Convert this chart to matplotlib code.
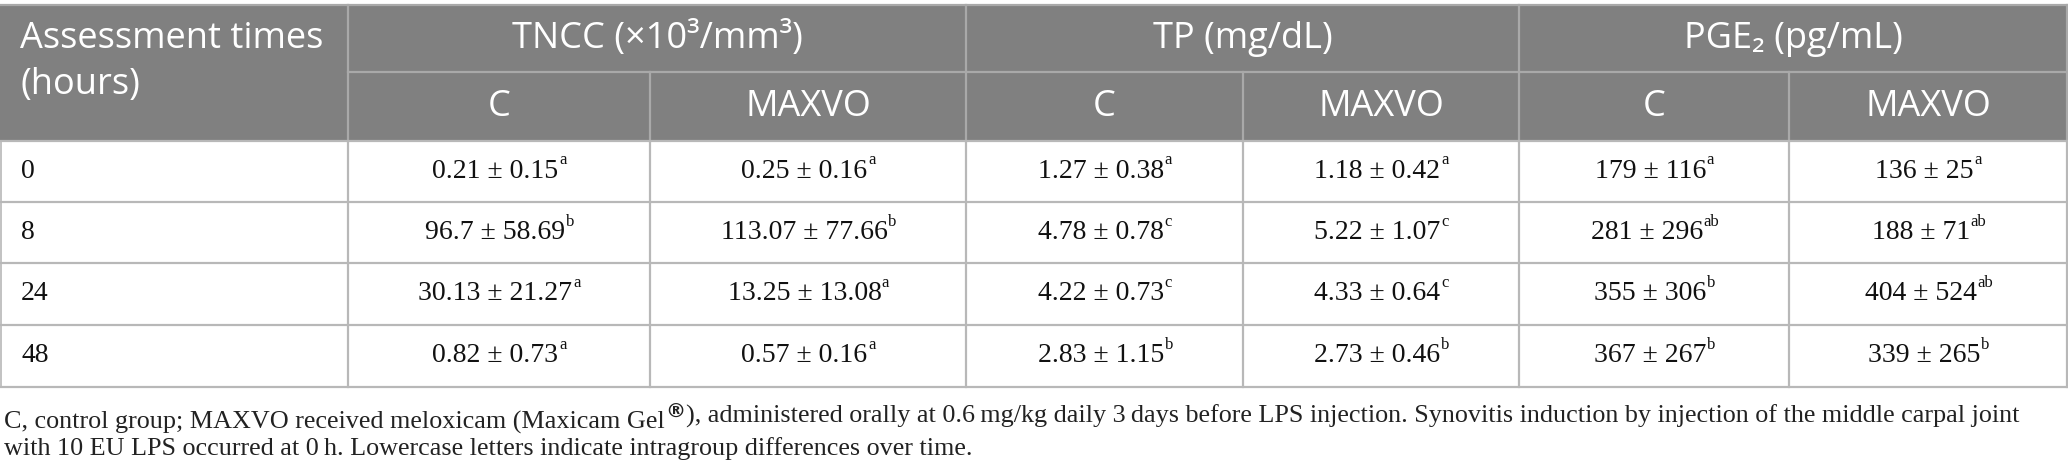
import matplotlib
matplotlib.use("Agg")
import matplotlib.pyplot as plt

# ---------------- data ----------------
times = ["0", "8", "24", "48"]
tncc_c = ["0.21 ± 0.15", "96.7 ± 58.69", "30.13 ± 21.27", "0.82 ± 0.73"]
tncc_c_sup = ["a", "b", "a", "a"]
tncc_m = ["0.25 ± 0.16", "113.07 ± 77.66", "13.25 ± 13.08", "0.57 ± 0.16"]
tncc_m_sup = ["a", "b", "a", "a"]
tp_c = ["1.27 ± 0.38", "4.78 ± 0.78", "4.22 ± 0.73", "2.83 ± 1.15"]
tp_c_sup = ["a", "c", "c", "b"]
tp_m = ["1.18 ± 0.42", "5.22 ± 1.07", "4.33 ± 0.64", "2.73 ± 0.46"]
tp_m_sup = ["a", "c", "c", "b"]
pge_c = ["179 ± 116", "281 ± 296", "355 ± 306", "367 ± 267"]
pge_c_sup = ["a", "ab", "b", "b"]
pge_m = ["136 ± 25", "188 ± 71", "404 ± 524", "339 ± 265"]
pge_m_sup = ["a", "ab", "ab", "b"]

group_headers = ["TNCC (×10³/mm³)", "TP (mg/dL)", "PGE₂ (pg/mL)"]
sub_headers = ["C", "MAXVO", "C", "MAXVO", "C", "MAXVO"]
first_header = ["Assessment times", "(hours)"]
footnote1a = "C, control group; MAXVO received meloxicam (Maxicam Gel"
footnote1b = "), administered orally at 0.6\u2009mg/kg daily 3\u2009days before LPS injection. Synovitis induction by injection of the middle carpal joint"
footnote2 = "with 10 EU LPS occurred at 0\u2009h. Lowercase letters indicate intragroup differences over time."

# ---------------- layout ----------------
W, H = 2068, 476
col_x = [0, 348, 650, 966, 1243, 1519, 1789, 2067]
y_top, y_mid, y_head = 5, 72, 141
row_y = [141, 202, 263, 325, 387]

HEAD_BG = "#808080"
HEAD_LINE = "#a9a9a9"
GRID = "#b8b8b8"
SANS = ["Open Sans", "DejaVu Sans"]
SERIF = ["Liberation Serif", "DejaVu Serif"]

fig = plt.figure(figsize=(W / 100, H / 100), dpi=100)
ax = fig.add_axes([0, 0, 1, 1])
ax.set_xlim(0, W)
ax.set_ylim(H, 0)
ax.axis("off")

# header background
ax.fill_between([col_x[0], col_x[-1]], y_top, y_head, color=HEAD_BG, lw=0, zorder=1)
# header lines
ax.plot([col_x[0], col_x[-1]], [y_top, y_top], color=HEAD_LINE, lw=1.6, zorder=2)
ax.plot([col_x[1], col_x[-1]], [y_mid, y_mid], color=HEAD_LINE, lw=1.6, zorder=2)
for i in (1, 3, 5, 7):
    ax.plot([col_x[i], col_x[i]], [y_top, y_head], color=HEAD_LINE, lw=1.6, zorder=2)
for i in (2, 4, 6):
    ax.plot([col_x[i], col_x[i]], [y_mid, y_head], color=HEAD_LINE, lw=1.6, zorder=2)

# body grid
for y in row_y:
    ax.plot([col_x[0], col_x[-1]], [y, y], color=GRID, lw=1.6, zorder=2)
for x in col_x[1:]:
    ax.plot([x, x], [row_y[0], row_y[-1]], color=GRID, lw=1.6, zorder=2)
ax.plot([col_x[0] + 0.5, col_x[0] + 0.5], [row_y[0], row_y[-1]], color=GRID, lw=1.2, zorder=2)

# header texts
HFS = 26
ax.text(20, 39, first_header[0], color="white", fontsize=HFS, family=SANS, ha="left", va="center", zorder=3)
ax.text(20, 85, first_header[1], color="white", fontsize=HFS, family=SANS, ha="left", va="center", zorder=3)
for g, name in enumerate(group_headers):
    cx = (col_x[1 + 2 * g] + col_x[3 + 2 * g]) / 2
    ax.text(cx, 39, name, color="white", fontsize=HFS, family=SANS, ha="center", va="center", zorder=3)
for j, name in enumerate(sub_headers):
    cx = (col_x[1 + j] + col_x[2 + j]) / 2
    ax.text(cx, 107, name, color="white", fontsize=HFS, family=SANS, ha="center", va="center", zorder=3)

# body texts
DFS = 20
SFS = 12
columns = [(tncc_c, tncc_c_sup), (tncc_m, tncc_m_sup), (tp_c, tp_c_sup),
           (tp_m, tp_m_sup), (pge_c, pge_c_sup), (pge_m, pge_m_sup)]
for r in range(len(times)):
    cy = (row_y[r] + row_y[r + 1]) / 2
    ax.text(21, cy, times[r], fontsize=DFS, family=SERIF, ha="left", va="center", color="#111111", zorder=3)
    for j, (vals, sups) in enumerate(columns):
        cx = (col_x[1 + j] + col_x[2 + j]) / 2
        shift = 3.5 * len(sups[r])
        t = ax.text(cx - shift, cy, vals[r], fontsize=DFS, family=SERIF, ha="center", va="center",
                    color="#111111", zorder=3)
        ax.annotate(sups[r], xy=(1, 0.62), xycoords=t, xytext=(0.3, 0), textcoords="offset points",
                    fontsize=SFS, family=SERIF, ha="left", va="bottom", color="#111111", zorder=3)

# footnote
FFS = 19.5
f1 = ax.text(4, 422, footnote1a, fontsize=FFS, family=SERIF, ha="left", va="center", color="#222222")
reg = ax.annotate("®", xy=(1, 0.5), xycoords=f1, xytext=(0.5, 0), textcoords="offset points",
                  fontsize=15, family=["DejaVu Sans"], fontweight="bold", ha="left", va="bottom", color="#222222")
f1b = ax.annotate(footnote1b, xy=(1, 0), xycoords=reg, xytext=(0.5, -4), textcoords="offset points",
                  fontsize=FFS, family=SERIF, ha="left", va="bottom", color="#222222")
f2 = ax.text(4, 449, footnote2, fontsize=FFS, family=SERIF, ha="left", va="center", color="#222222")

# fit the long footnote line to the table width
fig.canvas.draw()
renderer = fig.canvas.get_renderer()
right = f1b.get_window_extent(renderer).x1
factor = (2020 - 4) / (right - 4)
for t in (f1, f1b, f2):
    t.set_fontsize(FFS * factor)
reg.set_fontsize(15 * factor)

fig.savefig("out.png", dpi=100)
